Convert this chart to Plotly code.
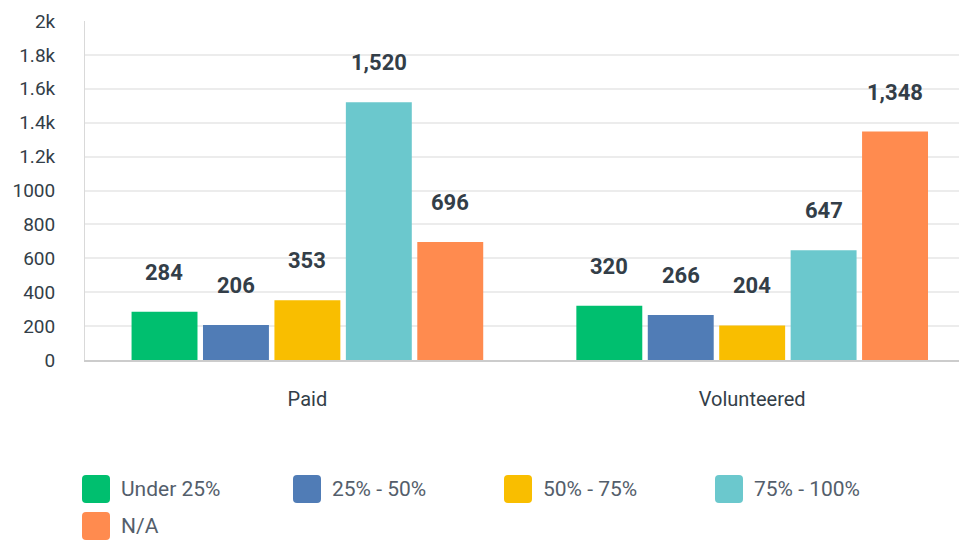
import plotly.graph_objects as go

# données
categories = ["Paid", "Volunteered"]
series_names = ["Under 25%", "25% - 50%", "50% - 75%", "75% - 100%", "N/A"]
series_values = [
    [284, 320],
    [206, 266],
    [353, 204],
    [1520, 647],
    [696, 1348],
]
colors = ["#00bf6f", "#507cb6", "#f9be00", "#6bc8cd", "#ff8b4f"]
y_tickvals = [0, 200, 400, 600, 800, 1000, 1200, 1400, 1600, 1800, 2000]
y_ticktext = ["0", "200", "400", "600", "800", "1000", "1.2k", "1.4k", "1.6k", "1.8k", "2k"]

# la page html ajoute une marge de 8px autour de la figure
OFF = 8
W, H = 967 - 2 * OFF, 544 - OFF
L, R, T, B = 85 - OFF, 0, 13, 184
FONT = "Roboto"
DARK = "#333e48"


def px_x(px):
    # px = position dans la capture de référence
    return (px - OFF - L) / (W - L - R)


def px_y(py):
    return (H - B - (py - OFF)) / (H - T - B)


fig = go.Figure()
for name, vals, col in zip(series_names, series_values, colors):
    fig.add_trace(go.Bar(
        x=categories, y=vals, name=name,
        marker=dict(color=col, line=dict(width=0)),
        showlegend=False,
        hovertemplate="%{x}: %{y}<extra>" + name + "</extra>"))

# étiquettes de valeurs au-dessus des barres
step_px = 71.5
n = len(series_names)
for i, vals in enumerate(series_values):
    for cat, v in zip(categories, vals):
        fig.add_annotation(
            x=cat, y=v, text="<b>{:,}</b>".format(v),
            showarrow=False, yanchor="bottom",
            xshift=(i - (n - 1) / 2) * step_px, yshift=25,
            font=dict(family=FONT, size=22, color=DARK))

# légende personnalisée (carrés arrondis)
legend_pos = [(82, 475), (293, 475), (504, 475), (715, 475), (82, 512)]
sq = 28
rad = 4
for (lx, ly), name, col in zip(legend_pos, series_names, colors):
    x0, x1 = px_x(lx), px_x(lx + sq)
    y0, y1 = px_y(ly + sq), px_y(ly)
    rx = px_x(lx + rad) - px_x(lx)
    ry = px_y(ly) - px_y(ly + rad)
    path = (f"M{x0+rx},{y0} L{x1-rx},{y0} Q{x1},{y0} {x1},{y0+ry} "
            f"L{x1},{y1-ry} Q{x1},{y1} {x1-rx},{y1} L{x0+rx},{y1} "
            f"Q{x0},{y1} {x0},{y1-ry} L{x0},{y0+ry} Q{x0},{y0} {x0+rx},{y0} Z")
    fig.add_shape(type="path", path=path, xref="paper", yref="paper",
                  fillcolor=col, line=dict(width=0), layer="above")
    fig.add_annotation(x=px_x(lx + sq + 9), y=px_y(ly + sq / 2),
                       xref="paper", yref="paper", xanchor="left", yanchor="middle",
                       text=name, showarrow=False,
                       font=dict(family=FONT, size=21, color="#545e6b"))

fig.update_layout(
    width=W, height=H,
    margin=dict(l=L, r=R, t=T, b=B),
    barmode="group", bargap=0.197, bargroupgap=0.077,
    plot_bgcolor="white", paper_bgcolor="white",
    font=dict(family=FONT, color=DARK),
    showlegend=False,
)
fig.update_yaxes(range=[0, 2000], tickvals=y_tickvals, ticktext=y_ticktext,
                 showgrid=True, gridcolor="#ececec", gridwidth=2,
                 showline=True, linecolor="#d9d9d9", linewidth=1,
                 zeroline=False, ticklabelstandoff=25, ticklabeloverflow="allow",
                 automargin=False,
                 tickfont=dict(family=FONT, size=19, color=DARK))
fig.update_xaxes(range=[-0.5, 1.465], showline=True, linecolor="#cccccc", linewidth=2,
                 ticklabelstandoff=20, automargin=False,
                 tickfont=dict(family=FONT, size=20, color=DARK))

fig.write_html("out.html")
